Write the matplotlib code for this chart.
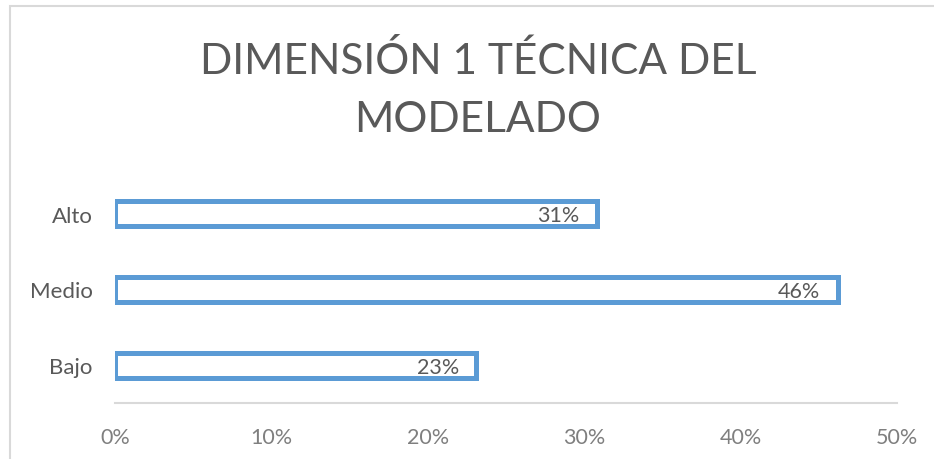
import matplotlib
matplotlib.use("Agg")
import matplotlib.pyplot as plt
from matplotlib.patches import Rectangle

plt.rcParams['font.family'] = ['Lato', 'DejaVu Sans']

# data
categories = ['Bajo', 'Medio', 'Alto']
values = [0.231, 0.462, 0.308]
x_ticks = [0, 0.1, 0.2, 0.3, 0.4, 0.5]
title = 'DIMENSIÓN 1 TÉCNICA DEL\nMODELADO'

gray = '#595959'
blue = '#5b9bd5'

fig = plt.figure(figsize=(9.34, 4.6), dpi=100)

# light outer frame of the chart area (cut by the image on right and bottom)
fig.patches.append(Rectangle((10 / 934, -0.1), 1.0, (460 - 6.5) / 460 + 0.1,
                             transform=fig.transFigure, fill=False,
                             edgecolor='#d9d9d9', linewidth=1.5))

ax = fig.add_axes([115 / 934, 56 / 460, 782 / 934, 227 / 460])

ypos = list(range(len(categories)))
bars = ax.barh(ypos, values, height=0.33, color='white', edgecolor=blue,
               linewidth=3.6)

for b, v in zip(bars, values):
    ax.text(v - 0.011, b.get_y() + b.get_height() / 2 - 0.02, f'{v:.0%}',
            ha='right', va='center', fontsize=15.5, color=gray)

ax.set_xlim(0, 0.5)
ax.set_ylim(-0.5, 2.5)
ax.set_xticks(x_ticks)
ax.set_xticklabels([f'{t:.0%}' for t in x_ticks], fontsize=15.5, color='#7f7f7f')
ax.set_yticks(ypos)
ax.set_yticklabels(categories, fontsize=16, color=gray)
ax.tick_params(axis='both', length=0)
ax.tick_params(axis='x', pad=17)
ax.tick_params(axis='y', pad=16)

for s in ['top', 'right', 'left']:
    ax.spines[s].set_visible(False)
ax.spines['bottom'].set_color('#d9d9d9')
ax.spines['bottom'].set_linewidth(1.5)

fig.text(478 / 934, 1 - 90 / 460, title, ha='center', va='center',
         fontsize=30.5, color=gray, linespacing=1.66)

fig.savefig('out.png', dpi=100)
